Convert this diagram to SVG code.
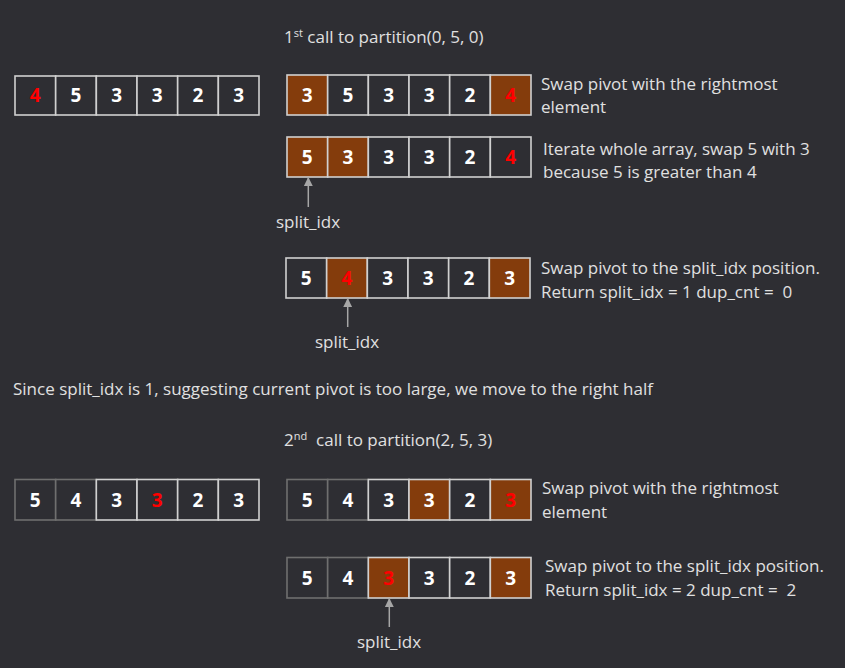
<svg xmlns="http://www.w3.org/2000/svg" width="845" height="668" viewBox="0 0 845 668">
<defs>
<style>
.bg{fill:#2e2e33}
.c{fill:#2e2e33;stroke:#d0d0d0;stroke-width:1.6}
.g{fill:#2e2e33;stroke:#6f6f6f;stroke-width:1.6}
.b{fill:#843c0c;stroke:#d0d0d0;stroke-width:1.6}
.n{font-family:"Open Sans","Noto Sans",sans-serif;font-weight:bold;font-size:19px;fill:#ffffff;text-anchor:middle}
.r{fill:#ff0000}
.t{font-family:"Open Sans","Noto Sans",sans-serif;font-size:17px;fill:#e0e0e0;white-space:pre}
.lbl{font-family:"Open Sans","Noto Sans",sans-serif;font-size:17px;fill:#e0e0e0;text-anchor:middle}
.ar{stroke:#a6a6a6;stroke-width:1.5;fill:none}
</style>
<marker id="ah" viewBox="0 0 10 10" refX="9" refY="5" markerWidth="9" markerHeight="9" markerUnits="userSpaceOnUse" orient="auto">
<path d="M0,0 L10,5 L0,10 z" fill="#a6a6a6"/>
</marker>
</defs>
<rect class="bg" x="0" y="0" width="845" height="668"/>

<text class="t" x="284" y="43" xml:space="preserve">1<tspan font-size="11" dy="-6">st</tspan><tspan dy="6"> call to partition(0, 5, 0)</tspan></text>

<g id="arr0">
<rect class="c" x="15" y="76" width="40.67" height="39"/>
<rect class="c" x="55.67" y="76" width="40.67" height="39"/>
<rect class="c" x="96.33" y="76" width="40.67" height="39"/>
<rect class="c" x="137" y="76" width="40.67" height="39"/>
<rect class="c" x="177.67" y="76" width="40.67" height="39"/>
<rect class="c" x="218.33" y="76" width="40.67" height="39"/>
<text class="n r" x="35.3" y="102">4</text>
<text class="n" x="76" y="102">5</text>
<text class="n" x="116.7" y="102">3</text>
<text class="n" x="157.3" y="102">3</text>
<text class="n" x="198" y="102">2</text>
<text class="n" x="238.7" y="102">3</text>
</g>

<g id="arr1">
<rect class="b" x="287" y="75" width="40.67" height="40"/>
<rect class="c" x="327.67" y="75" width="40.67" height="40"/>
<rect class="c" x="368.33" y="75" width="40.67" height="40"/>
<rect class="c" x="409" y="75" width="40.67" height="40"/>
<rect class="c" x="449.67" y="75" width="40.67" height="40"/>
<rect class="b" x="490.33" y="75" width="40.67" height="40"/>
<text class="n" x="307.3" y="102">3</text>
<text class="n" x="348" y="102">5</text>
<text class="n" x="388.7" y="102">3</text>
<text class="n" x="429.3" y="102">3</text>
<text class="n" x="470" y="102">2</text>
<text class="n r" x="510.7" y="102">4</text>
</g>
<g id="note1">
<text class="t" x="541" y="90">Swap pivot with the rightmost</text>
<text class="t" x="541" y="113">element</text>
</g>

<g id="arr2">
<rect class="b" x="287" y="137" width="40.67" height="40"/>
<rect class="b" x="327.67" y="137" width="40.67" height="40"/>
<rect class="c" x="368.33" y="137" width="40.67" height="40"/>
<rect class="c" x="409" y="137" width="40.67" height="40"/>
<rect class="c" x="449.67" y="137" width="40.67" height="40"/>
<rect class="c" x="490.33" y="137" width="40.67" height="40"/>
<text class="n" x="307.3" y="164">5</text>
<text class="n" x="348" y="164">3</text>
<text class="n" x="388.7" y="164">3</text>
<text class="n" x="429.3" y="164">3</text>
<text class="n" x="470" y="164">2</text>
<text class="n r" x="510.7" y="164">4</text>
</g>
<g id="note2">
<text class="t" x="543" y="155">Iterate whole array, swap 5 with 3</text>
<text class="t" x="543" y="178">because 5 is greater than 4</text>
</g>
<text class="lbl" x="308" y="228">split_idx</text>

<g id="arr3">
<rect class="c" x="286" y="258" width="40.67" height="40"/>
<rect class="b" x="326.67" y="258" width="40.67" height="40"/>
<rect class="c" x="367.33" y="258" width="40.67" height="40"/>
<rect class="c" x="408" y="258" width="40.67" height="40"/>
<rect class="c" x="448.67" y="258" width="40.67" height="40"/>
<rect class="b" x="489.33" y="258" width="40.67" height="40"/>
<text class="n" x="306.3" y="285">5</text>
<text class="n r" x="347" y="285">4</text>
<text class="n" x="387.7" y="285">3</text>
<text class="n" x="428.3" y="285">3</text>
<text class="n" x="469" y="285">2</text>
<text class="n" x="509.7" y="285">3</text>
</g>
<g id="note3">
<text class="t" x="541" y="274">Swap pivot to the split_idx position.</text>
<text class="t" x="541" y="298" xml:space="preserve">Return split_idx = 1 dup_cnt =  0</text>
</g>
<text class="lbl" x="347" y="348">split_idx</text>

<text class="t" x="13" y="395">Since split_idx is 1, suggesting current pivot is too large, we move to the right half</text>

<text class="t" x="284" y="446" xml:space="preserve">2<tspan font-size="11" dy="-6">nd</tspan><tspan dy="6">  call to partition(2, 5, 3)</tspan></text>

<g id="arr4">
<rect class="g" x="15" y="479.5" width="40.67" height="40.5"/>
<rect class="g" x="55.67" y="479.5" width="40.67" height="40.5"/>
<rect class="c" x="96.33" y="479.5" width="40.67" height="40.5"/>
<rect class="c" x="137" y="479.5" width="40.67" height="40.5"/>
<rect class="c" x="177.67" y="479.5" width="40.67" height="40.5"/>
<rect class="c" x="218.33" y="479.5" width="40.67" height="40.5"/>
<text class="n" x="35.3" y="506.5">5</text>
<text class="n" x="76" y="506.5">4</text>
<text class="n" x="116.7" y="506.5">3</text>
<text class="n r" x="157.3" y="506.5">3</text>
<text class="n" x="198" y="506.5">2</text>
<text class="n" x="238.7" y="506.5">3</text>
</g>

<g id="arr5">
<rect class="g" x="287" y="479.5" width="40.67" height="40.5"/>
<rect class="g" x="327.67" y="479.5" width="40.67" height="40.5"/>
<rect class="c" x="368.33" y="479.5" width="40.67" height="40.5"/>
<rect class="b" x="409" y="479.5" width="40.67" height="40.5"/>
<rect class="c" x="449.67" y="479.5" width="40.67" height="40.5"/>
<rect class="b" x="490.33" y="479.5" width="40.67" height="40.5"/>
<text class="n" x="307.3" y="506.5">5</text>
<text class="n" x="348" y="506.5">4</text>
<text class="n" x="388.7" y="506.5">3</text>
<text class="n" x="429.3" y="506.5">3</text>
<text class="n" x="470" y="506.5">2</text>
<text class="n r" x="510.7" y="506.5">3</text>
</g>
<g id="note5">
<text class="t" x="542" y="494">Swap pivot with the rightmost</text>
<text class="t" x="542" y="518">element</text>
</g>

<g id="arr6">
<rect class="g" x="287" y="557.5" width="40.67" height="40.5"/>
<rect class="g" x="327.67" y="557.5" width="40.67" height="40.5"/>
<rect class="b" x="368.33" y="557.5" width="40.67" height="40.5"/>
<rect class="c" x="409" y="557.5" width="40.67" height="40.5"/>
<rect class="c" x="449.67" y="557.5" width="40.67" height="40.5"/>
<rect class="b" x="490.33" y="557.5" width="40.67" height="40.5"/>
<text class="n" x="307.3" y="584.5">5</text>
<text class="n" x="348" y="584.5">4</text>
<text class="n r" x="388.7" y="584.5">3</text>
<text class="n" x="429.3" y="584.5">3</text>
<text class="n" x="470" y="584.5">2</text>
<text class="n" x="510.7" y="584.5">3</text>
</g>
<g id="note6">
<text class="t" x="545" y="572">Swap pivot to the split_idx position.</text>
<text class="t" x="545" y="596" xml:space="preserve">Return split_idx = 2 dup_cnt =  2</text>
</g>
<text class="lbl" x="389" y="648">split_idx</text>

<g id="connectors">
<line class="ar" x1="308.3" y1="207" x2="308.3" y2="178" marker-end="url(#ah)"/>
<line class="ar" x1="347.7" y1="327" x2="347.7" y2="299" marker-end="url(#ah)"/>
<line class="ar" x1="389.3" y1="627" x2="389.3" y2="599" marker-end="url(#ah)"/>
</g>
</svg>
